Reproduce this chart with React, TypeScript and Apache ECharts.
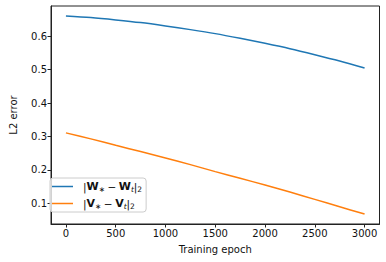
import React, { useEffect, useRef } from "react";
import * as echarts from "echarts";

const epochs = [0, 250, 500, 750, 1000, 1250, 1500, 1750, 2000, 2250, 2500, 2750, 3000];
const wError = [0.661, 0.656, 0.649, 0.641, 0.631, 0.62, 0.608, 0.594, 0.579, 0.563, 0.545, 0.526, 0.505];
const vError = [0.311, 0.293, 0.274, 0.255, 0.236, 0.216, 0.195, 0.175, 0.155, 0.134, 0.112, 0.09, 0.068];
const xTicks = [0, 500, 1000, 1500, 2000, 2500, 3000];
const yTicks = [0.1, 0.2, 0.3, 0.4, 0.5, 0.6];
const seriesNames = ["W", "V"];

const FONT = "DejaVu Sans";

export default function App() {
  const ref = useRef<HTMLDivElement>(null);
  useEffect(() => {
    if (!ref.current) return;
    const chart = echarts.init(ref.current, undefined, { renderer: "svg" });
    const mk = (v: number[]) => epochs.map((e, i) => [e, v[i]]);
    chart.setOption({
      animation: false,
      textStyle: { fontFamily: FONT },
      grid: {
        left: 44,
        right: 6.5,
        top: 6,
        bottom: 38,
        show: true,
        borderColor: "#222",
        borderWidth: 1,
      },
      xAxis: {
        type: "value",
        min: -150,
        max: 3150,
        name: "Training epoch",
        nameLocation: "middle",
        nameGap: 20,
        nameTextStyle: { fontSize: 10, color: "#111", fontFamily: FONT },
        splitLine: { show: false },
        axisLine: { show: true, onZero: false, lineStyle: { color: "#222" } },
        axisTick: { show: true, length: 3.5, customValues: xTicks, lineStyle: { color: "#222" } },
        axisLabel: {
          customValues: xTicks,
          fontSize: 10,
          color: "#111",
          margin: 4,
          fontFamily: FONT,
          formatter: (v: number) => String(v),
        },
      },
      yAxis: {
        type: "value",
        min: 0.0383,
        max: 0.6907,
        name: "L2 error",
        nameLocation: "middle",
        nameGap: 33,
        nameTextStyle: { fontSize: 10, color: "#111", fontFamily: FONT },
        splitLine: { show: false },
        axisLine: { show: true, onZero: false, lineStyle: { color: "#222" } },
        axisTick: { show: true, length: 3.5, customValues: yTicks, lineStyle: { color: "#222" } },
        axisLabel: {
          customValues: yTicks,
          fontSize: 10,
          color: "#111",
          margin: 4,
          fontFamily: FONT,
          formatter: (v: number) => v.toFixed(1),
        },
      },
      legend: {
        left: 50,
        top: 178,
        orient: "vertical",
        backgroundColor: "rgba(255,255,255,0.8)",
        borderColor: "#cccccc",
        borderWidth: 1,
        borderRadius: 3,
        padding: [3, 4, 2, 2],
        itemGap: 5,
        itemWidth: 21,
        itemHeight: 14,
        icon: "path://M0,6.5 L21,6.5 L21,8 L0,8 Z",
        data: seriesNames,
        formatter: (n: string) =>
          `{p| }|{b|${n}}{s|∗}{t|−}{b|${n}}{i|t}|{s|2}`,
        textStyle: {
          fontSize: 10.5,
          color: "#111",
          fontFamily: FONT,
          rich: {
            p: { fontSize: 10.5, width: 5 },
            b: { fontWeight: "bold", fontSize: 11, fontFamily: FONT, color: "#111" },
            s: { fontSize: 7.5, fontFamily: FONT, color: "#111", padding: [5, 0, 0, 0] },
            i: { fontSize: 7.5, fontStyle: "italic", fontFamily: FONT, color: "#111", padding: [5, 0, 0, 0] },
            t: { fontSize: 10.5, fontFamily: FONT, color: "#111", padding: [0, 2.5, 0, 2.5] },
          },
        },
      },
      series: [
        {
          name: seriesNames[0],
          type: "line",
          data: mk(wError),
          symbol: "none",
          smooth: 0.3,
          lineStyle: { color: "#1f77b4", width: 1.5 },
          itemStyle: { color: "#1f77b4" },
        },
        {
          name: seriesNames[1],
          type: "line",
          data: mk(vError),
          symbol: "none",
          smooth: 0.3,
          lineStyle: { color: "#ff7f0e", width: 1.5 },
          itemStyle: { color: "#ff7f0e" },
        },
      ],
    });
    return () => chart.dispose();
  }, []);
  return <div ref={ref} style={{ width: 386, height: 262, position: "absolute", left: 0, top: 0 }} />;
}
